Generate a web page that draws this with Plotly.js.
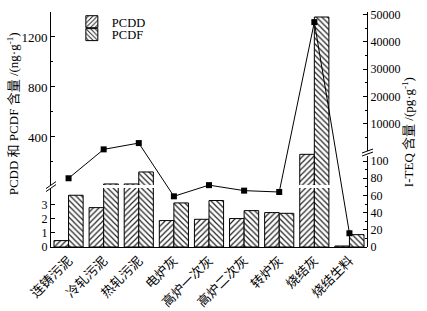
<!DOCTYPE html>
<html>
<head>
<meta charset="utf-8">
<script src="https://cdn.plot.ly/plotly-3.0.1.min.js"></script>
<style>html,body{margin:0;padding:0;background:#fff;}#chart{width:427px;height:311px;}</style>
</head>
<body>
<div id="chart"></div>
<script>
// ---- data ----
const categories = ['连铸污泥','冷轧污泥','热轧污泥','电炉灰','高炉一次灰','高炉二次灰','转炉灰','烧结灰','烧结生料'];
const pcdd = [0.45, 2.77, 24, 1.86, 1.95, 2.0, 2.42, 261, 0.07];      // ng/g
const pcdf = [3.64, 24, 120, 3.1, 3.27, 2.56, 2.37, 1360, 0.87];      // ng/g
const iteq = [80, 600, 2900, 59, 72, 65.6, 64, 47200, 16];            // pg/g
const leftLowTicks = [0, 1, 2, 3];
const leftUpTicks = [400, 800, 1200];
const rightLowTicks = [0, 20, 40, 60, 80, 100];
const rightUpTicks = [10000, 20000, 30000, 40000, 50000];

// ---- broken-axis geometry ----
const LL_DOM = [0, 0.251], LL_RANGE = [0, 4.15];
const LU_DOM = [0.264, 1], LU_RANGE = [16, 1400];
const RL_DOM = [0, 0.389], RL_RANGE = [0, 106.4];
const RU_DOM = [0.4085, 1], RU_RANGE = [0, 50900];

// piecewise scale for the right broken axis (maps value to fraction of plot height)
function rightScale(v) {
  if (v <= RL_RANGE[1]) return RL_DOM[0] + (v - RL_RANGE[0]) / (RL_RANGE[1] - RL_RANGE[0]) * (RL_DOM[1] - RL_DOM[0]);
  return RU_DOM[0] + (v - RU_RANGE[0]) / (RU_RANGE[1] - RU_RANGE[0]) * (RU_DOM[1] - RU_DOM[0]);
}

const serif = 'Liberation Serif, Noto Sans CJK SC, serif';
const pddPattern = {shape: '/', size: 4, solidity: 0.3, fgcolor: '#222', bgcolor: '#fff'};
const pdfPattern = {shape: '\\', size: 4, solidity: 0.3, fgcolor: '#222', bgcolor: '#fff'};
const barLine = {color: '#000', width: 1};

const traces = [
  {type: 'bar', x: categories, y: pcdd, xaxis: 'x', yaxis: 'y', name: 'PCDD', showlegend: false,
   marker: {color: '#fff', pattern: pddPattern, line: barLine}},
  {type: 'bar', x: categories, y: pcdf, xaxis: 'x', yaxis: 'y', name: 'PCDF', showlegend: false,
   marker: {color: '#fff', pattern: pdfPattern, line: barLine}},
  {type: 'bar', x: categories, y: pcdd, xaxis: 'x', yaxis: 'y2', name: 'PCDD', legend: 'legend',
   marker: {color: '#fff', pattern: pddPattern, line: barLine}},
  {type: 'bar', x: categories, y: pcdf, xaxis: 'x', yaxis: 'y2', name: 'PCDF', legend: 'legend2',
   marker: {color: '#fff', pattern: pdfPattern, line: barLine}},
  // I-TEQ registered on both right axis segments (no marks drawn there, only axes)
  {type: 'scatter', mode: 'none', x: categories, y: iteq, xaxis: 'x', yaxis: 'y3', showlegend: false, hoverinfo: 'skip'},
  {type: 'scatter', mode: 'none', x: categories, y: iteq, xaxis: 'x', yaxis: 'y4', showlegend: false, hoverinfo: 'skip'},
  // I-TEQ line drawn through the piecewise broken-axis scale
  {type: 'scatter', mode: 'lines+markers', x: categories, y: iteq.map(rightScale), xaxis: 'x', yaxis: 'y5',
   showlegend: false, line: {color: '#000', width: 1}, marker: {symbol: 'square', size: 6, color: '#000'}, cliponaxis: false}
];

const yCommon = {showline: true, linecolor: '#000', linewidth: 1, ticks: 'inside', ticklen: 4, tickcolor: '#000',
  showgrid: false, zeroline: false, tickfont: {family: serif, size: 13, color: '#000'}, tickformat: 'd',
  fixedrange: true, automargin: false};

function brk(xa, ya, pts) {
  return pts.map(p => ({type: 'line', xref: 'paper', yref: 'paper', xsizemode: 'pixel', ysizemode: 'pixel',
    xanchor: xa, yanchor: ya, x0: p[0], y0: p[1], x1: p[2], y1: p[3], line: {color: '#000', width: 1}}));
}

const legendBase = {xanchor: 'left', yanchor: 'top', bgcolor: 'rgba(0,0,0,0)',
  font: {family: serif, size: 12.5, color: '#000'}, itemwidth: 30};

const layout = {
  width: 427, height: 311,
  margin: {l: 51, r: 60, t: 12, b: 64, pad: 0, autoexpand: false},
  paper_bgcolor: '#fff', plot_bgcolor: 'rgba(0,0,0,0)',
  barmode: 'group', bargap: 0.17, bargroupgap: 0,
  showlegend: true,
  legend: Object.assign({}, legendBase, {x: 0.066, y: 1.021}),
  legend2: Object.assign({}, legendBase, {x: 0.066, y: 0.966}),
  xaxis: {type: 'category', range: [-0.5, 8.5], anchor: 'y', showline: true, linecolor: '#000', linewidth: 1,
    ticks: '', tickangle: -45, tickfont: {family: 'Noto Sans CJK SC', size: 13, color: '#000'},
    fixedrange: true, automargin: false},
  yaxis: Object.assign({}, yCommon, {domain: LL_DOM, range: LL_RANGE, anchor: 'x', side: 'left',
    tickmode: 'array', tickvals: leftLowTicks, tickfont: {family: serif, size: 12, color: '#000'}}),
  yaxis2: Object.assign({}, yCommon, {domain: LU_DOM, range: LU_RANGE, anchor: 'x', side: 'left',
    tickmode: 'array', tickvals: leftUpTicks,
    minor: {tickmode: 'array', tickvals: [200, 600, 1000, 1400], ticks: 'inside', ticklen: 2, tickcolor: '#000'}}),
  yaxis3: Object.assign({}, yCommon, {domain: RL_DOM, range: RL_RANGE, anchor: 'x', side: 'right',
    tickmode: 'array', tickvals: rightLowTicks, tickfont: {family: serif, size: 12, color: '#000'},
    minor: {tickmode: 'array', tickvals: [10, 30, 50, 70, 90], ticks: 'inside', ticklen: 2, tickcolor: '#000'}}),
  yaxis4: Object.assign({}, yCommon, {domain: RU_DOM, range: RU_RANGE, anchor: 'x', side: 'right',
    tickmode: 'array', tickvals: rightUpTicks, tickfont: {family: serif, size: 12, color: '#000'},
    minor: {tickmode: 'array', tickvals: [5000, 15000, 25000, 35000, 45000], ticks: 'inside', ticklen: 2, tickcolor: '#000'}}),
  yaxis5: {domain: [0, 1], range: [0, 1], anchor: 'x', visible: false, fixedrange: true, automargin: false},
  annotations: [
    {xref: 'paper', yref: 'paper', x: -0.12, y: 0.565, xanchor: 'center', yanchor: 'middle', showarrow: false,
     textangle: -90, text: 'PCDD 和 PCDF 含量 /(ng·g<sup>-1</sup>)', font: {family: serif, size: 13, color: '#000'}},
    {xref: 'paper', yref: 'paper', x: 1.13, y: 0.489, xanchor: 'center', yanchor: 'middle', showarrow: false,
     textangle: -90, text: 'I-TEQ 含量 /(pg·g<sup>-1</sup>)', font: {family: serif, size: 13, color: '#000'}}
  ],
  shapes: [].concat(
    brk(0, 0.257, [[-5, -5, 5, 2], [-5, -2, 5, 5]]),
    brk(1, 0.4, [[-5, -3, 6, 1], [-5, 0, 6, 4]])
  )
};

Plotly.newPlot('chart', traces, layout, {displayModeBar: false, staticPlot: true});
</script>
</body>
</html>
